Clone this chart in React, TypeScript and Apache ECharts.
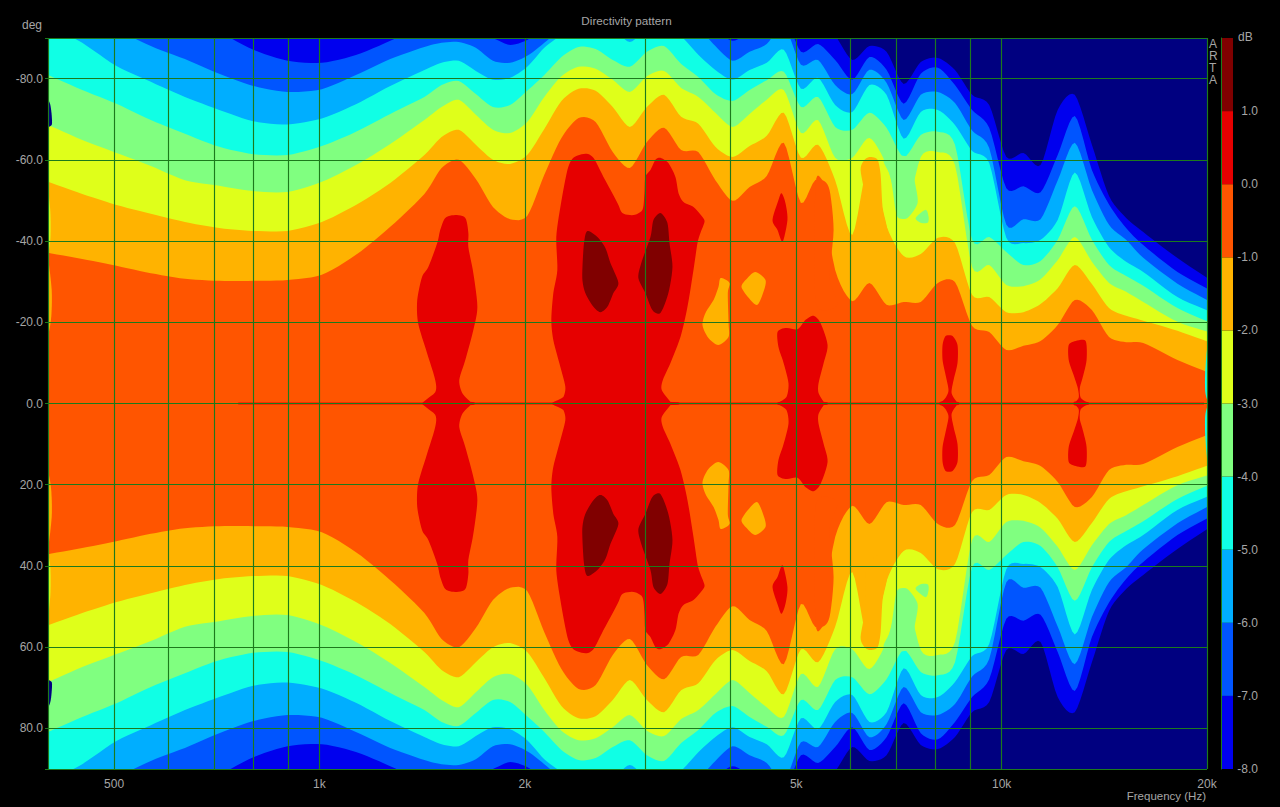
import React, { useEffect, useRef } from "react";
import * as echarts from "echarts";

// Frequency columns (Hz) at which the iso-dB contours were read
const freqs = [
  400, 449, 504, 566, 635, 713, 800, 898, 1008, 1131, 1270, 1425,
  1510, 1600, 1695, 1796, 1903, 2016, 2136, 2263, 2398, 2540,
  2691, 2851, 3020, 3200, 3390, 3592, 3805, 4032, 4271, 4525,
  4794, 5079, 5381, 5701, 6040, 6400, 6780, 7184, 7611, 8063,
  8543, 9051, 9589, 10159, 10763, 11404, 12082, 12800, 13561, 14368,
  15222, 16127, 18102, 20319,
];

// Off-axis angle (deg, pattern is mirrored about 0) of each iso-dB contour
const contourMinus1 = [
  37.1, 35.6, 33.9, 32.1, 30.7, 30.2, 30.2, 30.4, 31.7, 36.6, 43.5, 51.6,
  58.0, 60.0, 55.3, 48.4, 45.4, 46.2, 56.3, 65.4, 70.3, 69.3,
  61.9, 58.0, 64.4, 67.9, 62.4, 61.9, 55.0, 49.9, 53.3, 56.0,
  64.2, 49.4, 54.8, 32.9, 25.2, 29.7, 24.3, 25.0, 25.0, 29.7,
  29.9, 19.1, 17.6, 13.2, 14.2, 15.4, 19.3, 25.5, 23.0, 16.4,
  15.1, 14.9, 10.7, 7.3,
];
const contourMinus2 = [
  54.6, 51.6, 48.9, 46.7, 44.7, 43.2, 42.5, 42.5, 44.7, 48.9, 54.3, 61.2,
  65.6, 67.4, 63.7, 60.0, 59.0, 61.2, 67.6, 74.5, 77.5, 77.0,
  73.0, 68.1, 73.0, 76.0, 70.6, 68.9, 63.2, 60.7, 63.4, 65.9,
  71.6, 60.5, 63.7, 55.0, 41.5, 60.0, 43.7, 36.3, 36.8, 40.8,
  39.5, 26.7, 26.2, 22.5, 22.5, 24.5, 28.4, 34.1, 29.4, 23.5,
  21.6, 20.4, 17.9, 14.9,
];
const contourMinus3 = [
  68.6, 64.9, 61.7, 58.5, 55.0, 53.6, 52.3, 52.1, 54.6, 58.7, 63.9, 69.8,
  73.0, 74.8, 71.1, 67.4, 66.6, 69.3, 75.5, 80.6, 82.9, 82.4,
  79.7, 76.7, 80.6, 81.9, 77.7, 75.5, 71.6, 68.1, 71.3, 74.8,
  77.2, 66.6, 69.8, 60.5, 60.5, 65.4, 58.7, 45.9, 60.7, 61.9,
  58.7, 33.6, 34.1, 29.2, 28.9, 30.6, 35.3, 41.0, 34.9, 29.7,
  27.5, 25.0, 20.1, 17.4,
];
const contourMinus4 = [
  80.9, 77.2, 73.8, 69.8, 66.4, 63.2, 61.4, 61.2, 63.4, 66.9, 71.3, 75.5,
  78.4, 79.4, 76.2, 73.0, 73.5, 77.0, 80.9, 85.3, 87.8, 87.3,
  84.6, 82.9, 86.6, 88.0, 83.6, 80.4, 76.2, 74.5, 77.2, 79.6,
  81.7, 73.0, 75.5, 68.1, 67.4, 71.6, 67.9, 60.7, 66.1, 66.9,
  63.7, 40.3, 41.0, 37.3, 34.1, 35.1, 40.3, 48.6, 40.3, 34.1,
  31.4, 29.0, 23.5, 19.8,
];
const contourMinus5 = [
  93.2, 88.8, 83.1, 79.2, 75.5, 72.3, 69.5, 68.7, 70.2, 73.7, 78.2, 82.1,
  83.9, 84.4, 81.9, 79.7, 80.2, 82.9, 87.6, 90.8, 94.5, 95.7,
  92.7, 89.0, 92.5, 94.5, 90.5, 85.9, 82.1, 79.7, 82.1, 83.9,
  87.1, 77.5, 80.2, 73.5, 71.8, 78.4, 76.0, 65.2, 71.8, 72.3,
  68.6, 62.2, 59.2, 40.8, 39.5, 40.3, 45.2, 56.9, 45.9, 38.5,
  34.9, 32.4, 26.2, 22.5,
];
const contourMinus6 = [
  98.2, 95.7, 92.0, 88.0, 84.8, 81.2, 78.2, 76.7, 77.4, 80.9, 84.8, 87.8,
  88.8, 89.0, 87.6, 84.4, 83.9, 85.6, 88.8, 92.5, 95.7, 96.9,
  95.7, 94.5, 95.7, 95.7, 95.7, 92.5, 88.0, 84.4, 86.6, 88.5,
  93.2, 83.4, 84.6, 78.4, 76.2, 82.2, 79.0, 69.8, 76.0, 76.7,
  74.0, 67.2, 62.9, 44.0, 45.4, 45.4, 54.9, 64.2, 52.6, 44.0,
  40.3, 35.9, 29.5, 24.9,
];
const contourMinus7 = [
  101.9, 100.6, 99.4, 98.2, 95.7, 91.5, 87.1, 84.4, 83.9, 85.8, 89.3, 93.2,
  93.9, 93.9, 92.0, 90.0, 88.3, 89.5, 92.5, 95.7, 95.7, 95.7,
  95.7, 95.0, 95.7, 95.7, 95.7, 94.5, 92.0, 89.3, 91.5, 93.9,
  95.7, 86.6, 88.5, 84.6, 79.7, 85.3, 82.2, 73.8, 81.2, 82.7,
  78.4, 72.3, 67.9, 53.0, 53.5, 52.0, 61.2, 70.8, 57.5, 49.0,
  43.2, 39.0, 32.4, 27.7,
];
const contourMinus8 = [
  99, 99, 99, 99, 99, 99, 99, 99, 99, 99, 99, 99,
  99, 99, 99, 99, 99, 99, 99, 99, 99, 99,
  99, 99, 99, 99, 99, 99, 99, 99, 99, 99,
  99, 92.0, 93.2, 90.5, 84.6, 88.0, 86.6, 78.7, 84.1, 85.1,
  82.1, 76.0, 73.5, 60.7, 61.7, 58.7, 72.3, 76.0, 63.7, 51.1,
  45.7, 42.2, 35.8, 30.2,
];

// Closed regions that are not simple bands: [Hz, deg]
const lobe1500Hz = [
  [1581, 46.4], [1636, 45.7], [1653, 42], [1653, 38.5], [1681, 32.1], [1704, 23.8], [1681, 18.1], [1636, 10.7],
  [1603, 5.8], [1619, 2.6], [1664, 0.4], [1675, -0.4], [1419, -0.4], [1478, 2.8], [1478, 5.8], [1438, 12.4],
  [1395, 19.8], [1391, 25.5], [1414, 31.2], [1444, 33.6], [1488, 39.5], [1503, 42.7], [1529, 45.7],
];
const lobe2800Hz = [
  [2232, -0.4], [2278, 1.6], [2293, 4.1], [2255, 9], [2202, 15.6], [2187, 20.6], [2202, 27.2], [2232, 32.9],
  [2224, 41], [2255, 48.4], [2309, 57.5], [2356, 60.5], [2453, 61.5], [2521, 60.5], [2608, 55.8], [2734, 49.4],
  [2780, 46.9], [2886, 46.4], [2975, 47.7], [2995, 51.8], [3004, 55.8], [3056, 57.5], [3108, 60], [3161, 60.5],
  [3247, 59.2], [3325, 55.8], [3360, 51.8], [3417, 49.6], [3534, 48.4], [3643, 45.9], [3668, 44.7], [3618, 42],
  [3582, 39.5], [3534, 32.9], [3463, 23.8], [3382, 16.4], [3270, 10], [3187, 5.8], [3175, 3.3], [3270, 0.4], [3303, -0.4],
];
const lobe4700Hz = [
  [4757, 51.8], [4820, 49.4], [4853, 45.2], [4774, 39.8], [4693, 42.7], [4614, 45.2], [4708, 50.1],
];
const lobe5000Hz = [
  [4693, 17.6], [4820, 18.6], [5021, 18.3], [5159, 20.6], [5301, 21.6], [5427, 19.8], [5557, 14.4], [5484, 10],
  [5390, 5], [5390, 2.6], [5484, 0.4], [5519, -0.4], [4708, -0.4], [4837, 1.6], [4870, 5], [4790, 10], [4708, 13.9],
];
const lobe8500Hz = [
  [8276, 16.6], [8474, 16.6], [8616, 14.4], [8616, 10], [8503, 5.8], [8445, 2.6], [8590, 0.4], [8645, -0.4],
  [8112, -0.4], [8276, 1.4], [8358, 3.3], [8276, 7], [8192, 10.7], [8192, 14.4],
];
const lobe13kHz = [
  [12540, 14.4], [12840, 15.4], [13280, 15.4], [13320, 10.7], [13150, 6.5], [13020, 3.8], [13060, 1.4], [13370, 0.1],
  [13370, -0.4], [12750, -0.4], [12970, 1.4], [12930, 3.8], [12750, 7], [12540, 10.7],
];
const axisRidge = [[760, 0.16], [19800, 0.16], [19800, -0.16], [760, -0.16]];
const peak2600Hz = [
  [2478, 42.5], [2555, 41], [2625, 38.3], [2670, 34.6], [2743, 29.7], [2697, 27.2], [2643, 23.8], [2581, 22.5],
  [2521, 23.8], [2453, 27.2], [2428, 30.9], [2437, 37.8], [2453, 41.5],
];
const peak3100Hz = [
  [3161, 46.9], [3236, 44.5], [3259, 39.5], [3292, 33.6], [3247, 27.2], [3161, 22.3], [3076, 23], [3004, 27.2],
  [2934, 30.9], [2963, 34.6], [3056, 41], [3087, 45.2],
];
const dip3700Hz = [
  [3873, 30.9], [3992, 29.7], [3968, 27.2], [3978, 19.8], [3978, 16.4], [3845, 14.4], [3717, 16.1], [3643, 19.3],
  [3680, 22.3], [3782, 25.5], [3845, 28.7],
];
const dip4300Hz = [
  [4357, 32.4], [4507, 30.4], [4476, 27.5], [4386, 24.3], [4283, 25.5], [4155, 28.7], [4241, 30.9],
];
const dip7600Hz = [
  [7480, 45.7], [7738, 47.7], [7815, 45.9], [7790, 44.5], [7605, 44.5],
];
const notch7100Hz = [
  [6713, 60], [6872, 55.8], [6988, 47.7], [7061, 45.7], [7278, 45.7], [7531, 49.4], [7454, 55], [7402, 60], [7106, 61],
];
const finger6400Hz = [
  [6212, 57.5], [6296, 60], [6423, 60.7], [6579, 60], [6647, 56.3], [6690, 48.4], [6803, 42], [6647, 37.3], [6340, 40.3], [6318, 50.1],
];
const shoulder5500Hz = [
  [5337, 54], [5464, 55], [5594, 52.6], [5671, 42.7], [5594, 30.9], [5748, 24.3], [5337, 25],
];
const edgeNavy = [[398, 75.3], [403, 73.6], [405, 71], [405, 68.6], [398, 68.6]];
const edgeYellow = [[398, 54.6], [403, 47.6], [403, 40], [398, 37.1]];
const edgeAmber = [[398, 37], [405, 28], [404, 20.6], [398, 16.9]];
const edgeRightCyan = [[20050, 14.5], [19880, 8], [19880, 3], [20050, 1.5]];

// Value-axis ticks and labels
const gridFreqs = [400, 500, 600, 700, 800, 900, 1000, 2000, 3000, 4000, 5000, 6000, 7000, 8000, 9000, 10000, 20000];
const labelFreqs = [500, 1000, 2000, 5000, 10000, 20000];
const labelTexts = ["500", "1k", "2k", "5k", "10k", "20k"];
const gridAngles = [-90, -80, -60, -40, -20, 0, 20, 40, 60, 80, 90];
const labelAngles = [-80, -60, -40, -20, 0, 20, 40, 60, 80];
const scaleLevels = [-8, -7, -6, -5, -4, -3, -2, -1, 0, 1];

const bandColors: Record<string, string> = {
  "-9": "#000080", "-8": "#0000EE", "-7": "#0055FF", "-6": "#00AEFF", "-5": "#10FFE5",
  "-4": "#80FF80", "-3": "#DFFF1A", "-2": "#FFB300", "-1": "#FF5500", "0": "#E60000", "1": "#800000",
};

const GREEN = "#1C7A1C";
const GREY = "#A6A6A6";
const FONT = '"Liberation Sans", Arial, sans-serif';
const lg = (f: number) => Math.log10(f);

const bands = [
  { level: -8, angles: contourMinus8 }, { level: -7, angles: contourMinus7 },
  { level: -6, angles: contourMinus6 }, { level: -5, angles: contourMinus5 },
  { level: -4, angles: contourMinus4 }, { level: -3, angles: contourMinus3 },
  { level: -2, angles: contourMinus2 }, { level: -1, angles: contourMinus1 },
];
const islands = [
  { level: -4, pts: notch7100Hz },
  { level: -4, pts: dip7600Hz },
  { level: -2, pts: finger6400Hz },
  { level: -1, pts: shoulder5500Hz },
  { level: -2, pts: dip3700Hz }, { level: -2, pts: dip4300Hz },
  { level: 0, pts: axisRidge, sharp: true },
  { level: 0, pts: lobe1500Hz }, { level: 0, pts: lobe2800Hz }, { level: 0, pts: lobe4700Hz },
  { level: 0, pts: lobe5000Hz }, { level: 0, pts: lobe8500Hz }, { level: 0, pts: lobe13kHz },
  { level: 1, pts: peak2600Hz }, { level: 1, pts: peak3100Hz },
  { level: -3, pts: edgeYellow }, { level: -2, pts: edgeAmber },
  { level: -9, pts: edgeNavy }, { level: -5, pts: edgeRightCyan },
];

// Cardinal spline through projected points, only to draw the contours smoothly
function spline(p: number[][], closed: boolean): number[][] {
  const n = p.length;
  const out: number[][] = [];
  const K = 0.4;
  const at = (i: number) => (closed ? p[(i + n) % n] : p[Math.max(0, Math.min(n - 1, i))]);
  const segs = closed ? n : n - 1;
  for (let i = 0; i < segs; i++) {
    const a = at(i - 1), b = at(i), c = at(i + 1), d = at(i + 2);
    const t1 = [(c[0] - a[0]) * K, (c[1] - a[1]) * K];
    const t2 = [(d[0] - b[0]) * K, (d[1] - b[1]) * K];
    for (let s = 0; s < 6; s++) {
      const t = s / 6, t2v = t * t, t3 = t2v * t;
      const h1 = 2 * t3 - 3 * t2v + 1, h2 = t3 - 2 * t2v + t, h3 = -2 * t3 + 3 * t2v, h4 = t3 - t2v;
      out.push([
        h1 * b[0] + h2 * t1[0] + h3 * c[0] + h4 * t2[0],
        h1 * b[1] + h2 * t1[1] + h3 * c[1] + h4 * t2[1],
      ]);
    }
  }
  if (!closed) out.push(p[n - 1]);
  return out;
}

function App() {
  const ref = useRef<HTMLDivElement>(null);
  useEffect(() => {
    const chart = echarts.init(ref.current!, undefined, { renderer: "svg" });
    const total = bands.length + islands.length;
    const renderPattern = (params: any, api: any) => {
      const i = api.value(2) as number;
      const poly = (points: number[][], level: number) => ({
        type: "polygon",
        shape: { points },
        style: { fill: bandColors[String(level)], stroke: null },
      });
      if (i < bands.length) {
        const b = bands[i];
        const top = spline(freqs.map((f, k) => api.coord([lg(f), -b.angles[k]])), false);
        const bot = spline(freqs.map((f, k) => api.coord([lg(f), b.angles[k]])), false).reverse();
        return poly(top.concat(bot), b.level);
      }
      const r: any = islands[i - bands.length];
      const draw = (sign: number) => {
        const pts = r.pts.map((q: number[]) => api.coord([lg(q[0]), sign * q[1]]));
        return poly(r.sharp ? pts : spline(pts, true), r.level);
      };
      return { type: "group", children: [draw(-1), draw(1)] };
    };
    const renderScale = (params: any, api: any) => {
      const lo = api.value(1) as number;
      const a = api.coord([0, lo + 1]);
      const b = api.coord([1, lo]);
      return {
        type: "rect",
        shape: { x: a[0], y: a[1], width: b[0] - a[0], height: b[1] - a[1] },
        style: { fill: bandColors[String(lo)], stroke: null },
      };
    };
    const axisText = { color: GREY, fontFamily: FONT, fontSize: 12 };
    chart.setOption({
      animation: false,
      backgroundColor: "#000000",
      grid: [
        { left: 48, top: 38, width: 1159, height: 731, show: true, backgroundColor: "#000080", borderWidth: 0 },
        { left: 1221, top: 38, width: 12, height: 731, show: false },
      ],
      xAxis: [
        {
          type: "value",
          gridIndex: 0,
          min: lg(400),
          max: lg(20000),
          z: 10,
          axisLine: { show: false },
          axisTick: { show: true, length: 3, lineStyle: { color: GREEN }, customValues: gridFreqs.map(lg) },
          splitLine: { show: true, lineStyle: { color: GREEN, width: 1.15 } },
          axisLabel: {
            ...axisText,
            margin: 9,
            customValues: labelFreqs.map(lg),
            formatter: (v: number) => {
              const k = labelFreqs.findIndex((f) => Math.abs(lg(f) - v) < 1e-6);
              return k >= 0 ? labelTexts[k] : "";
            },
          },
        },
        { type: "value", gridIndex: 1, min: 0, max: 1, show: false },
      ],
      yAxis: [
        {
          type: "value",
          gridIndex: 0,
          inverse: true,
          min: -90,
          max: 90,
          z: 10,
          axisLine: { show: false },
          axisTick: { show: true, length: 3, lineStyle: { color: GREEN }, customValues: gridAngles },
          splitLine: { show: true, lineStyle: { color: GREEN, width: 1.15 } },
          axisLabel: {
            ...axisText,
            margin: 5,
            customValues: labelAngles,
            formatter: (v: number) => v.toFixed(1),
          },
        },
        {
          type: "value",
          gridIndex: 1,
          position: "right",
          min: -8,
          max: 2,
          z: 10,
          axisLine: { show: true, lineStyle: { color: GREEN } },
          axisTick: { show: false },
          splitLine: { show: false },
          axisLabel: {
            ...axisText,
            margin: 25,
            align: "right",
            customValues: scaleLevels,
            formatter: (v: number) => v.toFixed(1),
          },
        },
      ],
      series: [
        {
          type: "custom",
          name: "Directivity",
          xAxisIndex: 0,
          yAxisIndex: 0,
          clip: true,
          silent: true,
          z: 2,
          renderItem: renderPattern,
          data: Array.from({ length: total }, (_, i) => [lg(1000), 0, i]),
        },
        {
          type: "custom",
          name: "Scale",
          xAxisIndex: 1,
          yAxisIndex: 1,
          silent: true,
          z: 2,
          renderItem: renderScale,
          data: scaleLevels.map((lo) => [0, lo]),
        },
      ],
      graphic: [
        { type: "text", x: 626.5, y: 20, style: { text: "Directivity pattern", fill: GREY, font: `11.7px ${FONT}`, textAlign: "center", textVerticalAlign: "middle" } },
        { type: "text", left: 22, top: 19, style: { text: "deg", fill: GREY, font: `12px ${FONT}` } },
        { type: "text", right: 74, top: 790, style: { text: "Frequency (Hz)", fill: GREY, font: `11.5px ${FONT}` } },
        { type: "text", left: 1238, top: 31, style: { text: "dB", fill: GREY, font: `12px ${FONT}` } },
        { type: "text", left: 1209, top: 38, style: { text: "A\nR\nT\nA", fill: GREY, font: `12px ${FONT}`, lineHeight: 12, align: "left" } },
      ],
    });
    return () => chart.dispose();
  }, []);
  return <div ref={ref} style={{ position: "fixed", left: 0, top: 0, width: 1280, height: 807 }} />;
}

export default App;
